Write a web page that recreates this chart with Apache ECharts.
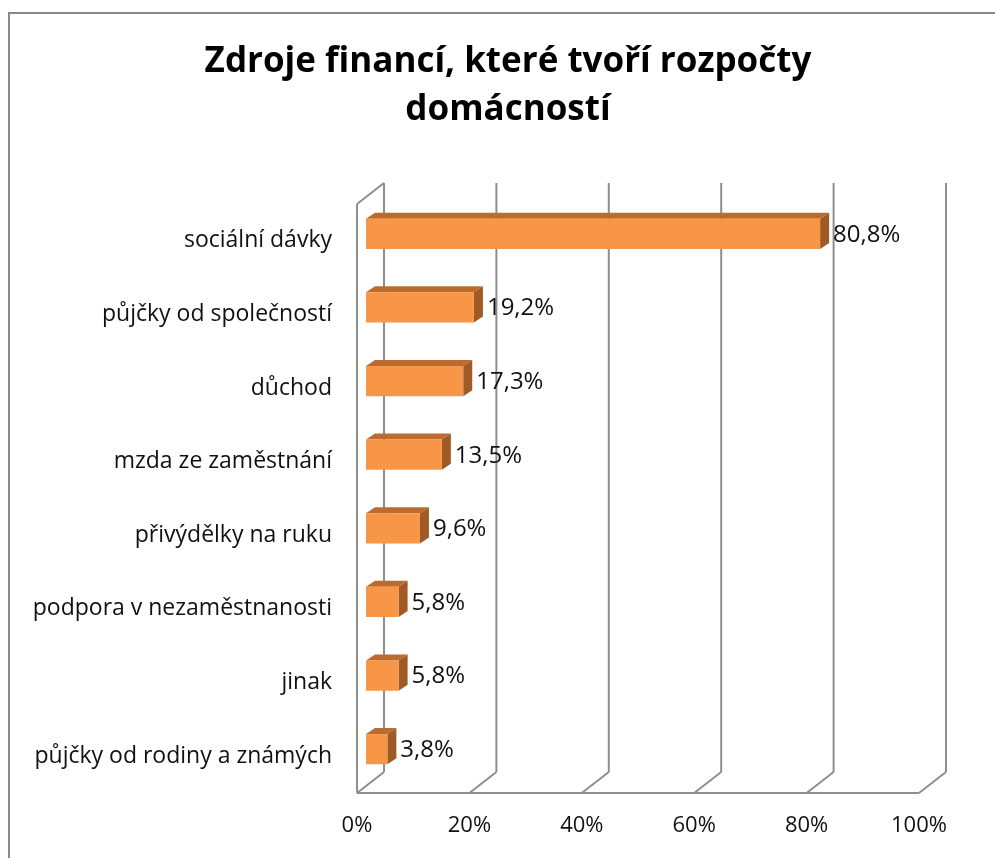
<!DOCTYPE html>
<html>
<head>
<meta charset="utf-8">
<title>Zdroje financí</title>
<script src="https://cdn.jsdelivr.net/npm/echarts@6/dist/echarts.min.js"></script>
<style>
  html, body { margin: 0; padding: 0; background: #fff; }
  #chart { width: 995px; height: 858px; }
</style>
</head>
<body>
<div id="chart"></div>
<script>
// data
var categories = [
  'sociální dávky',
  'půjčky od společností',
  'důchod',
  'mzda ze zaměstnání',
  'přivýdělky na ruku',
  'podpora v nezaměstnanosti',
  'jinak',
  'půjčky od rodiny a známých'
]
var values = [80.8, 19.2, 17.3, 13.5, 9.6, 5.8, 5.8, 3.8]
var ticks = [0, 20, 40, 60, 80, 100]

var FONT = '"Open Sans", Lato, sans-serif'
var GRID_COLOR = '#8e8e8e'
// 3D depth of the walls (px), bars sit in the middle third
var DEPTH_X = 27
var DEPTH_Y = -21

var chart = echarts.init(document.getElementById('chart'))

function fmt(v) {
  return String(v.toFixed(1)).replace('.', ',') + '%'
}

// back wall + floor lines for each tick
function renderGrid(params, api) {
  var cs = params.coordSys
  var v = api.value(0)
  var x = api.coord([v, 0])[0]
  var top = cs.y
  var bottom = cs.y + cs.height
  var lineStyle = { stroke: GRID_COLOR, lineWidth: 2, fill: null }
  var children = [
    // back wall vertical
    { type: 'line', shape: { x1: x + DEPTH_X, y1: top + DEPTH_Y, x2: x + DEPTH_X, y2: bottom + DEPTH_Y }, style: lineStyle },
    // floor slant
    { type: 'line', shape: { x1: x, y1: bottom, x2: x + DEPTH_X, y2: bottom + DEPTH_Y }, style: lineStyle }
  ]
  if (v === 0) {
    // left side wall edges + front floor edge
    children.push({ type: 'line', shape: { x1: x, y1: top, x2: x, y2: bottom }, style: lineStyle })
    children.push({ type: 'line', shape: { x1: x, y1: top, x2: x + DEPTH_X, y2: top + DEPTH_Y }, style: lineStyle })
    children.push({ type: 'line', shape: { x1: x, y1: bottom, x2: cs.x + cs.width, y2: bottom }, style: lineStyle })
  }
  return { type: 'group', children: children }
}

// 3D box bars
function renderBar(params, api) {
  var v = api.value(0)
  var idx = api.value(1)
  var p0 = api.coord([0, idx])
  var p1 = api.coord([v, idx])
  var band = api.size([0, 1])[1]
  var h = band * 0.41
  var ox = DEPTH_X / 3
  var oy = DEPTH_Y / 3
  var dx = 9
  var dy = -6
  var xa = p0[0] + ox
  var xb = p1[0] + ox
  var t = p0[1] + oy - h / 2
  var b = p0[1] + oy + h / 2
  return {
    type: 'group',
    children: [
      { type: 'polygon', shape: { points: [[xa, t], [xb, t], [xb + dx, t + dy], [xa + dx, t + dy]] }, style: { fill: '#bc6b2f' } },
      { type: 'polygon', shape: { points: [[xb, t], [xb + dx, t + dy], [xb + dx, b + dy], [xb, b]] }, style: { fill: '#a05a26' } },
      { type: 'rect', shape: { x: xa, y: t, width: xb - xa, height: b - t }, style: { fill: '#f79646' } },
      { type: 'text', style: { text: fmt(v), x: xb + dx + 4, y: (t + b) / 2 + 1, textAlign: 'left', textVerticalAlign: 'middle', fontSize: 24, fontFamily: FONT, fill: '#111' } }
    ]
  }
}

chart.setOption({
  backgroundColor: '#fff',
  animation: false,
  graphic: [
    { type: 'rect', shape: { x: 9, y: 13, width: 1200, height: 1200 }, style: { fill: null, stroke: '#888', lineWidth: 2 } },
    {
      type: 'text',
      style: {
        text: 'Zdroje financí, které tvoří rozpočty',
        x: 508, y: 62,
        textAlign: 'center',
        textVerticalAlign: 'middle',
        fontSize: 35, fontWeight: 'bold', fontFamily: FONT,
        fill: '#000'
      }
    },
    {
      type: 'text',
      style: {
        text: 'domácností',
        x: 508, y: 110,
        textAlign: 'center',
        textVerticalAlign: 'middle',
        fontSize: 35, fontWeight: 'bold', fontFamily: FONT,
        fill: '#000'
      }
    }
  ],
  grid: { left: 357, right: 76, top: 204, bottom: 65, containLabel: false },
  xAxis: {
    type: 'value',
    min: 0,
    max: 100,
    interval: 20,
    axisLine: { show: false },
    axisTick: { show: false },
    splitLine: { show: false },
    axisLabel: { margin: 22, fontSize: 22, fontFamily: FONT, color: '#111', formatter: '{value}%' }
  },
  yAxis: {
    type: 'category',
    data: categories,
    inverse: true,
    axisLine: { show: false },
    axisTick: { show: false },
    splitLine: { show: false },
    axisLabel: { margin: 25, fontSize: 23, fontFamily: FONT, color: '#111' }
  },
  series: [
    {
      type: 'custom',
      renderItem: renderGrid,
      data: ticks.map(function (t) { return [t, 0] }),
      encode: { x: 0, y: 1 },
      silent: true,
      z: 1
    },
    {
      type: 'custom',
      renderItem: renderBar,
      data: values.map(function (v, i) { return [v, i] }),
      encode: { x: 0, y: 1 },
      z: 2
    }
  ]
})
</script>
</body>
</html>
